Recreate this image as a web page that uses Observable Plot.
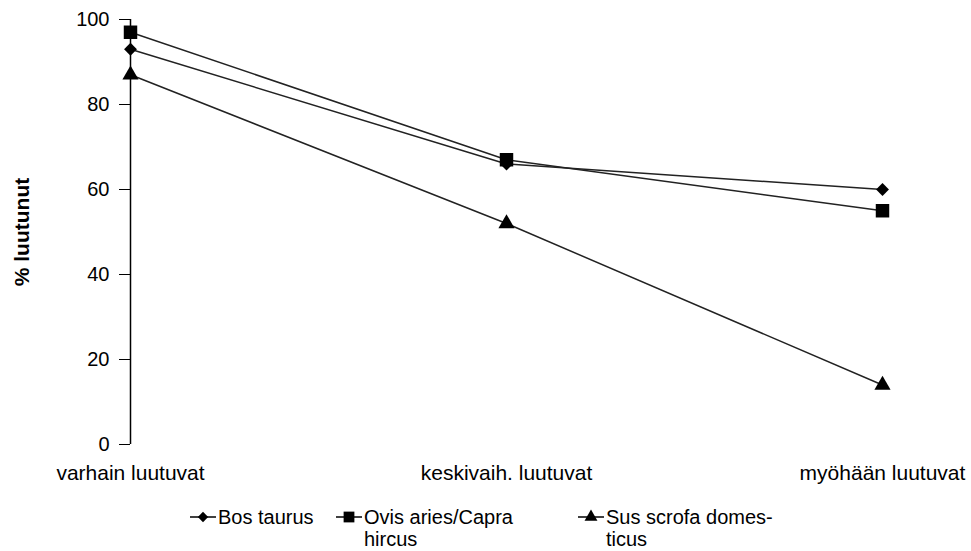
<!DOCTYPE html>
<html><head><meta charset="utf-8">
<script src="https://cdn.jsdelivr.net/npm/d3@7"></script>
<script src="https://cdn.jsdelivr.net/npm/@observablehq/plot@0.6"></script>
<style>
body{margin:0;background:#fff;font-family:"Liberation Sans",Arial,sans-serif;overflow:hidden;}
#chart svg{display:block;}
#legend{position:relative;height:56px;font-size:20px;color:#000;}
.item{position:absolute;top:11px;display:flex;align-items:flex-start;line-height:22px;}
.item svg{margin-right:2px;}
</style></head><body>
<div id="chart"></div>
<div id="legend"></div>
<script>
const categories = ["varhain luutuvat", "keskivaih. luutuvat", "myöhään luutuvat"];
const seriesNames = ["Bos taurus", "Ovis aries/Capra hircus", "Sus scrofa domesticus"];
const bosTaurus = [93, 66, 60];
const ovisCapra = [97, 67, 55];
const susScrofa = [87, 52, 14];
const yTicks = [0, 20, 40, 60, 80, 100];

const symbols = {"Bos taurus": "diamond2", "Ovis aries/Capra hircus": "square", "Sus scrofa domesticus": "triangle"};
const radii = {"Bos taurus": 5.8, "Ovis aries/Capra hircus": 7.6, "Sus scrofa domesticus": 6};
const data = [];
[bosTaurus, ovisCapra, susScrofa].forEach((vals, i) => {
  vals.forEach((v, j) => data.push({series: seriesNames[i], cat: categories[j], value: v}));
});

const plot = Plot.plot({
  width: 971,
  height: 495,
  marginLeft: 130,
  marginRight: 89,
  marginTop: 19,
  marginBottom: 51,
  style: {fontFamily: "Liberation Sans, Arial, sans-serif", fontSize: "20px", color: "#000", background: "#fff"},
  x: {type: "point", domain: categories, padding: 0},
  y: {domain: [0, 100]},
  marks: [
    Plot.axisY({ticks: yTicks, tickSize: 11, tickPadding: 10, label: null, fontSize: 20}),
    Plot.axisY({ticks: [], tickSize: 0, label: "% luutunut", labelAnchor: "center", labelArrow: "none", labelOffset: 116, fontSize: 21, fontWeight: "bold"}),
    Plot.axisX({tickSize: 0, tickPadding: 21, label: null, fontSize: 21}),
    Plot.ruleX([categories[0]], {y1: 0, y2: 100, stroke: "#000", strokeWidth: 1.5}),
    Plot.line(data, {x: "cat", y: "value", z: "series", stroke: "#222", strokeWidth: 1.5}),
    ...seriesNames.map(s => Plot.dot(data.filter(d => d.series === s), {x: "cat", y: "value", symbol: () => symbols[s], r: radii[s], fill: "#000", stroke: "none"}))
  ]
});
document.getElementById("chart").appendChild(plot);

// legend
const legend = d3.select("#legend");
const items = [
  {name: "Bos taurus", html: "Bos taurus", left: 190},
  {name: "Ovis aries/Capra hircus", html: "Ovis aries/Capra<br>hircus", left: 336},
  {name: "Sus scrofa domesticus", html: "Sus scrofa domes-<br>ticus", left: 578}
];
const symMap = {"diamond2": d3.symbolDiamond2, "square": d3.symbolSquare, "triangle": d3.symbolTriangle};
items.forEach(it => {
  const div = legend.append("div").attr("class", "item").style("left", it.left + "px");
  const svg = div.append("svg").attr("width", 26).attr("height", 22);
  svg.append("line").attr("x1", 0).attr("x2", 26).attr("y1", 11).attr("y2", 11).attr("stroke", "#000").attr("stroke-width", 1.5);
  const r = radii[it.name] * 0.8;
  svg.append("path").attr("transform", "translate(13,11)").attr("d", d3.symbol(symMap[symbols[it.name]], Math.PI * r * r)()).attr("fill", "#000");
  div.append("span").html(it.html);
});
</script>
</body></html>
